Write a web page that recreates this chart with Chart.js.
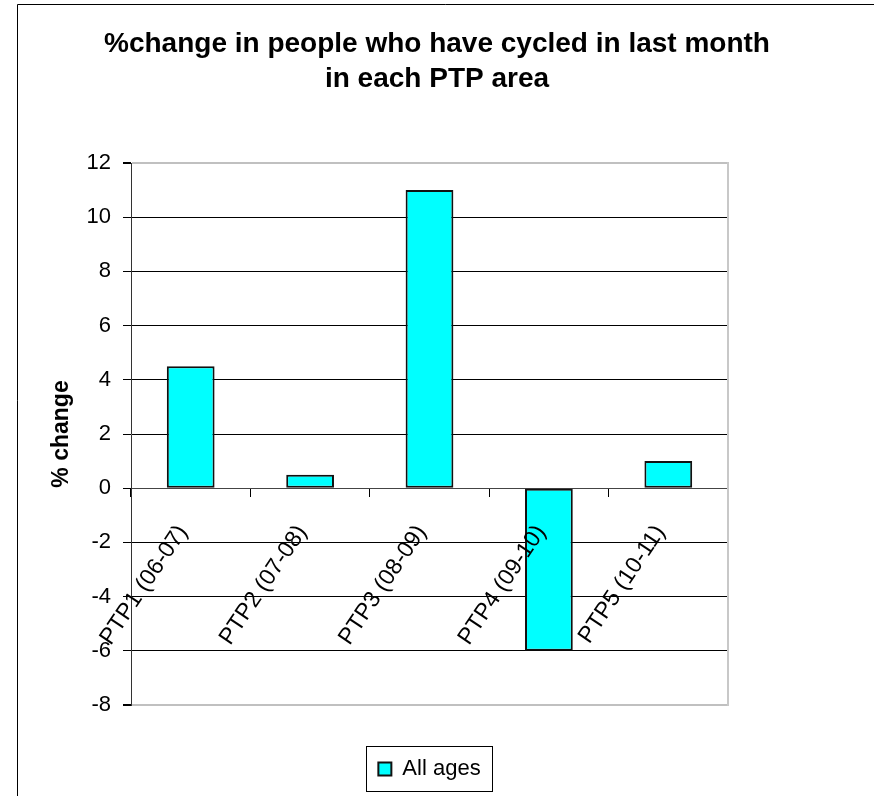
<!DOCTYPE html>
<html>
<head>
<meta charset="utf-8">
<script src="https://cdn.jsdelivr.net/npm/chart.js@4.4.1/dist/chart.umd.min.js"></script>
<style>
  body { margin: 0; background: #fff; overflow: hidden; }
  #wrap { width: 874px; height: 796px; }
</style>
</head>
<body>
<div id="wrap"><canvas id="myChart"></canvas></div>
<script>
const areas = ['PTP1 (06-07)', 'PTP2 (07-08)', 'PTP3 (08-09)', 'PTP4 (09-10)', 'PTP5 (10-11)'];
const allAges = [4.5, 0.5, 11, -6, 1];
const yMin = -8, yMax = 12, yStep = 2;
const titleLines = ['%change in people who have cycled in last month', 'in each PTP area'];

Chart.defaults.font.family = '"Liberation Sans", Arial, sans-serif';
Chart.defaults.color = '#000';

// outer frame of the chart object (only top + left edges show)
const frame = {
  id: 'frame',
  beforeDraw(chart) {
    const c = chart.ctx;
    c.save();
    c.strokeStyle = '#000';
    c.lineWidth = 1;
    c.beginPath();
    c.moveTo(17.5, 796);
    c.lineTo(17.5, 4.5);
    c.lineTo(874, 4.5);
    c.stroke();
    c.restore();
  }
};

// box round the legend
const legendBox = {
  id: 'legendBox',
  afterDraw(chart) {
    const hb = chart.legend.legendHitBoxes[0];
    if (!hb) return;
    const c = chart.ctx;
    const x = Math.round(hb.left - 12) + 0.5;
    const y = Math.round(hb.top + hb.height / 2 - 23) + 0.5;
    c.save();
    c.strokeStyle = '#000';
    c.lineWidth = 1;
    c.strokeRect(x, y, Math.round(hb.width + 24), 45);
    c.restore();
  }
};

const ctx = document.getElementById('myChart');

new Chart(ctx, {
  type: 'bar',
  data: {
    labels: areas,
    datasets: [{
      label: 'All ages',
      data: allAges,
      backgroundColor: '#00FFFF',
      borderColor: '#111',
      borderWidth: 2,
      borderSkipped: false,
      barPercentage: 0.4,
      categoryPercentage: 1,
      xAxisID: 'x',
      yAxisID: 'y'
    }]
  },
  options: {
    responsive: true,
    maintainAspectRatio: false,
    animation: false,
    layout: { padding: { top: 0, left: 0, right: 0, bottom: 6 } },
    scales: {
      x: {
        type: 'category',
        position: { y: 0 },
        grid: { display: true, drawOnChartArea: false, drawTicks: true, tickLength: 8, tickColor: '#000', offset: true },
        border: { display: true, color: '#444', width: 1 },
        ticks: { font: { size: 23 }, color: '#000', minRotation: 56, maxRotation: 56, autoSkip: false, padding: 24, labelOffset: -8, z: 1 }
      },
      x2: {
        type: 'category',
        position: 'bottom',
        grid: { display: false },
        border: { display: false },
        ticks: { display: false },
        afterFit(s) { s.height = 43; }
      },
      y: {
        type: 'linear',
        position: 'left',
        min: yMin,
        max: yMax,
        ticks: { stepSize: yStep, font: { size: 22 }, color: '#000', padding: 12 },
        grid: {
          color: (c) => (c.tick && (c.tick.value === yMax || c.tick.value === yMin)) ? '#c0c0c0' : '#000',
          lineWidth: (c) => (c.tick && (c.tick.value === yMax || c.tick.value === yMin)) ? 2 : 1,
          tickLength: 8,
          tickColor: '#000'
        },
        border: { display: true, color: '#333', width: 1 },
        title: { display: true, text: '% change', font: { size: 23, weight: 'bold' }, color: '#000', padding: { top: 48, bottom: 0 } },
        afterFit(s) { s.width = 131; }
      },
      y2: {
        type: 'linear',
        position: 'right',
        grid: { display: false, drawTicks: false },
        border: { display: true, color: '#c8c8c8', width: 2 },
        ticks: { display: false },
        afterFit(s) { s.width = 146; }
      }
    },
    plugins: {
      title: {
        display: true,
        text: titleLines,
        color: '#000',
        font: { size: 28, weight: 'bold', lineHeight: 1.25 },
        padding: { top: 27, bottom: 66 }
      },
      legend: {
        position: 'bottom',
        fullSize: false,
        labels: { boxWidth: 13, boxHeight: 13, font: { size: 22 }, color: '#000', padding: 10 }
      },
      tooltip: { enabled: false }
    }
  },
  plugins: [frame, legendBox]
});
</script>
</body>
</html>
